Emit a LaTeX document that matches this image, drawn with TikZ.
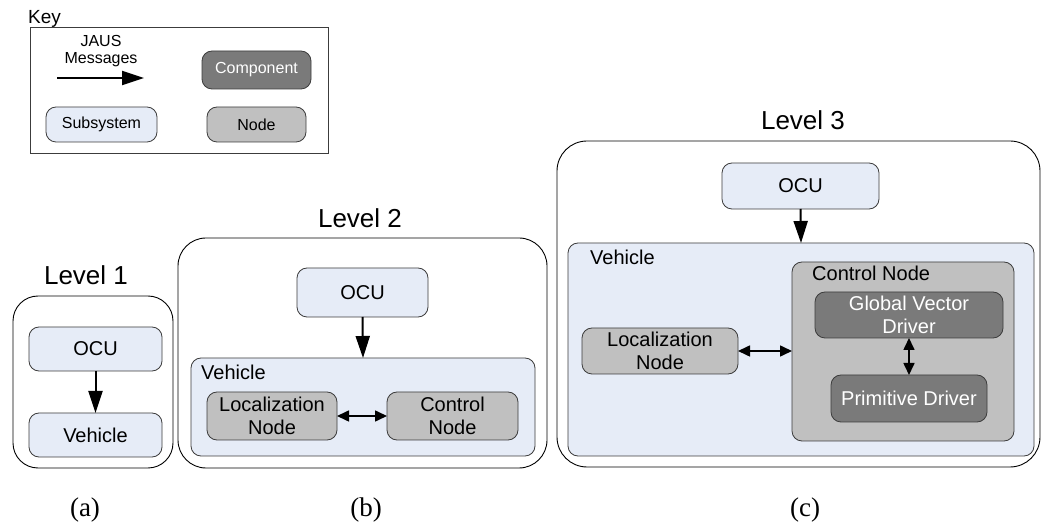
\documentclass[tikz,border=0pt]{standalone}
\usepackage{fontspec}
\setmainfont{Liberation Sans}
\newfontfamily\capfont{Liberation Serif}
\usetikzlibrary{arrows.meta}

\definecolor{subfill}{RGB}{230,236,247}
\definecolor{nodefill}{RGB}{192,192,192}
\definecolor{compfill}{RGB}{122,122,122}
\definecolor{edge}{RGB}{60,60,60}

\tikzset{
  box/.style={draw=edge, line width=0.8pt, rounded corners=10pt,
              inner sep=0pt, outer sep=0pt, align=center,
              font=\fontsize{20}{23}\selectfont},
  subsys/.style={box, fill=subfill},
  nodebox/.style={box, fill=nodefill},
  comp/.style={box, fill=compfill, text=white},
  keybox/.style={box, font=\fontsize{16}{18}\selectfont},
  levelbox/.style={draw=black, line width=0.9pt, rounded corners=28pt,
                   fill=white, inner sep=0pt, outer sep=0pt},
  leveltitle/.style={font=\fontsize{26}{28}\selectfont},
  caption/.style={font=\capfont\fontsize{27}{29}\selectfont},
  boxlabel/.style={anchor=west, inner sep=0pt, font=\fontsize{20}{22}\selectfont},
  msg/.style={line width=2pt, -{Triangle[length=22pt,width=14pt]}},
  bidir/.style={line width=1.6pt,
                {Triangle[length=12pt,width=11pt]}-{Triangle[length=12pt,width=11pt]}}
}

\begin{document}
\begin{tikzpicture}[x=1pt,y=-1pt]
\useasboundingbox (0,0) rectangle (1042,526);

% ---------------- Key ----------------
\node[anchor=base west, inner sep=0pt, font=\fontsize{19}{21}\selectfont] (keytitle) at (28,24) {Key};
\node[draw=edge, line width=0.9pt, minimum width=298pt, minimum height=126pt,
      inner sep=0pt] (keyframe) at (179,90) {};
\node[align=center, inner sep=0pt, font=\fontsize{16}{17}\selectfont] (jaus) at (101,51) {JAUS\\Messages};
\coordinate (kstart) at (57,78);
\coordinate (kend) at (144,78);
\draw[msg] (kstart) -- (kend);
\node[comp, keybox, text=white, fill=compfill, minimum width=109pt, minimum height=38pt] (kcomp) at (256.5,70) {Component};
\node[subsys, keybox, fill=subfill, minimum width=111pt, minimum height=35pt] (ksub) at (101.5,124.5) {Subsystem};
\node[nodebox, keybox, fill=nodefill, minimum width=99pt, minimum height=35pt] (knode) at (256.5,124.5) {Node};

% ---------------- Level 1 ----------------
\node[leveltitle] (t1) at (86,275) {Level 1};
\node[levelbox, rounded corners=25pt, minimum width=160pt, minimum height=172pt] (lv1) at (93,382) {};
\node[subsys, minimum width=133pt, minimum height=44pt] (ocu1) at (95.5,349) {OCU};
\node[subsys, minimum width=133pt, minimum height=44pt] (veh1) at (95.5,435) {Vehicle};
\draw[msg] (ocu1.south) -- (veh1.north);

% ---------------- Level 2 ----------------
\node[leveltitle] (t2) at (360,218) {Level 2};
\node[levelbox, minimum width=369pt, minimum height=230pt] (lv2) at (362.5,353) {};
\node[subsys, minimum width=131pt, minimum height=49pt] (ocu2) at (362.5,292.5) {OCU};
\node[subsys, minimum width=344pt, minimum height=98pt] (veh2) at (363,407) {};
\node[boxlabel] (veh2lbl) at (201,372) {Vehicle};
\node[nodebox, minimum width=130pt, minimum height=48pt] (loc2) at (272,416) {Localization\\Node};
\node[nodebox, minimum width=131pt, minimum height=48pt] (ctl2) at (452.5,416) {Control\\Node};
\draw[msg] (ocu2.south) -- (veh2.north);
\draw[bidir] (loc2.east) -- (ctl2.west);

% ---------------- Level 3 ----------------
\node[leveltitle] (t3) at (803,120) {Level 3};
\node[levelbox, rounded corners=30pt, minimum width=483pt, minimum height=326pt] (lv3) at (798.5,304) {};
\node[subsys, minimum width=157pt, minimum height=46pt] (ocu3) at (800.5,186) {OCU};
\node[subsys, minimum width=466pt, minimum height=213pt] (veh3) at (801,349.5) {};
\node[boxlabel] (veh3lbl) at (590,257) {Vehicle};
\node[nodebox, minimum width=222pt, minimum height=179pt] (ctl3) at (903,351.5) {};
\node[boxlabel] (ctl3lbl) at (812,273) {Control Node};
\node[comp, minimum width=188pt, minimum height=46pt] (gvd) at (909,315) {Global Vector\\Driver};
\node[comp, minimum width=156pt, minimum height=47pt] (prim) at (909,398.5) {Primitive Driver};
\node[nodebox, minimum width=156pt, minimum height=46pt] (loc3) at (660,351) {Localization\\Node};
\draw[msg] (ocu3.south) -- (veh3.north);
\draw[bidir] (loc3.east) -- (ctl3.west |- loc3.east);
\draw[bidir] (gvd.south) -- (prim.north);

% ---------------- Captions ----------------
\node[caption] (capa) at (85,510) {(a)};
\node[caption] (capb) at (366,510) {(b)};
\node[caption] (capc) at (805,510) {(c)};
\end{tikzpicture}
\end{document}
